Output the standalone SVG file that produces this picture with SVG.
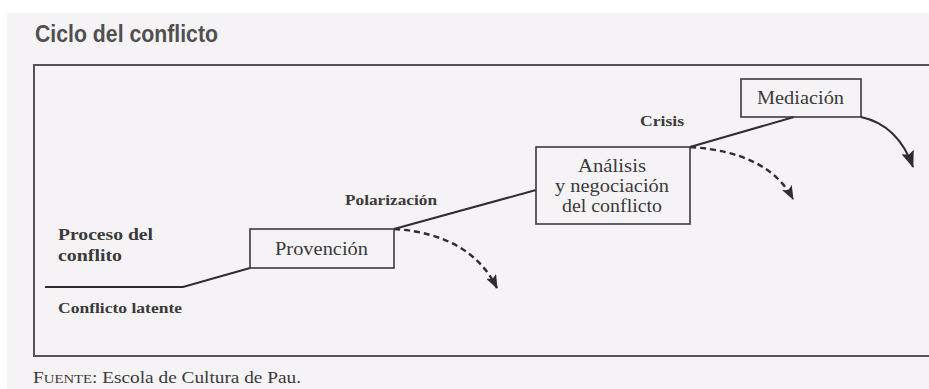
<svg xmlns="http://www.w3.org/2000/svg" width="929" height="389" viewBox="0 0 929 389">
<defs>
<style>
.box{fill:none;stroke:#3a3a3a;stroke-width:1.6}
.lbl{font-family:"Liberation Serif","DejaVu Serif",serif;fill:#3a3a3a}
.b{font-weight:bold}
.line{fill:none;stroke:#2e2e2e;stroke-width:2}
.dash{fill:none;stroke:#2e2e2e;stroke-width:2.4;stroke-dasharray:6 4}
</style>
<marker id="ah" viewBox="0 0 14 11" refX="13" refY="5.5" markerWidth="14" markerHeight="11" markerUnits="userSpaceOnUse" orient="auto">
<path d="M0,0 L14,5.5 L0,11 L3,5.5 Z" fill="#2e2e2e"/>
</marker>
<marker id="ah2" viewBox="0 0 17 13" refX="16" refY="6.5" markerWidth="17" markerHeight="13" markerUnits="userSpaceOnUse" orient="auto">
<path d="M0,0 L17,6.5 L0,13 L3,6.5 Z" fill="#2e2e2e"/>
</marker>
</defs>
<rect x="0" y="0" width="929" height="389" fill="#ffffff"/>
<rect x="7" y="13" width="922" height="376" fill="#f5f3f6"/>
<text x="35" y="42" font-family="Liberation Sans,Arial,sans-serif" font-weight="bold" font-size="23" fill="#505050" textLength="183" lengthAdjust="spacingAndGlyphs">Ciclo del conflicto</text>
<path d="M935,65 L34,65 L34,356 L935,356" fill="none" stroke="#555" stroke-width="2"/>

<g id="connectors">
<path class="line" d="M45,287 L183,287 L250,268"/>
<path class="line" d="M394,229 L536,190"/>
<path class="line" d="M690,147 L794,117"/>
<path class="dash" d="M394,229 Q470,234 497,288" marker-end="url(#ah)"/>
<path class="dash" d="M690,147 Q768,152 793,199" marker-end="url(#ah)"/>
<path class="line" d="M861,117 Q898,125 913,167" marker-end="url(#ah2)"/>
</g>

<g id="proceso">
<text class="lbl b" x="58" y="240" font-size="17.5" textLength="95" lengthAdjust="spacingAndGlyphs">Proceso del</text>
<text class="lbl b" x="58" y="261" font-size="17.5" textLength="64" lengthAdjust="spacingAndGlyphs">conflito</text>
</g>
<g id="latente">
<text class="lbl b" x="58" y="313" font-size="15" textLength="124" lengthAdjust="spacingAndGlyphs">Conflicto latente</text>
</g>
<g id="provencion">
<rect class="box" x="250" y="229" width="144" height="39"/>
<text class="lbl" x="275" y="255" font-size="19" textLength="93" lengthAdjust="spacingAndGlyphs">Provención</text>
</g>
<g id="polarizacion">
<text class="lbl b" x="345" y="205" font-size="14" textLength="92" lengthAdjust="spacingAndGlyphs">Polarización</text>
</g>
<g id="analisis">
<rect class="box" x="536" y="147" width="154" height="77"/>
<text class="lbl" x="578" y="172" font-size="18" textLength="68" lengthAdjust="spacingAndGlyphs">Análisis</text>
<text class="lbl" x="555" y="192" font-size="18" textLength="114" lengthAdjust="spacingAndGlyphs">y negociación</text>
<text class="lbl" x="562" y="212" font-size="18" textLength="100" lengthAdjust="spacingAndGlyphs">del conflicto</text>
</g>
<g id="crisis">
<text class="lbl b" x="640" y="126" font-size="14" textLength="44" lengthAdjust="spacingAndGlyphs">Crisis</text>
</g>
<g id="mediacion">
<rect class="box" x="741" y="79" width="120" height="38"/>
<text class="lbl" x="757" y="104" font-size="19" textLength="87" lengthAdjust="spacingAndGlyphs">Mediación</text>
</g>
<text class="lbl" x="33" y="383" font-size="17" textLength="268" lengthAdjust="spacingAndGlyphs">F<tspan font-size="13">UENTE</tspan>: Escola de Cultura de Pau.</text>
</svg>
